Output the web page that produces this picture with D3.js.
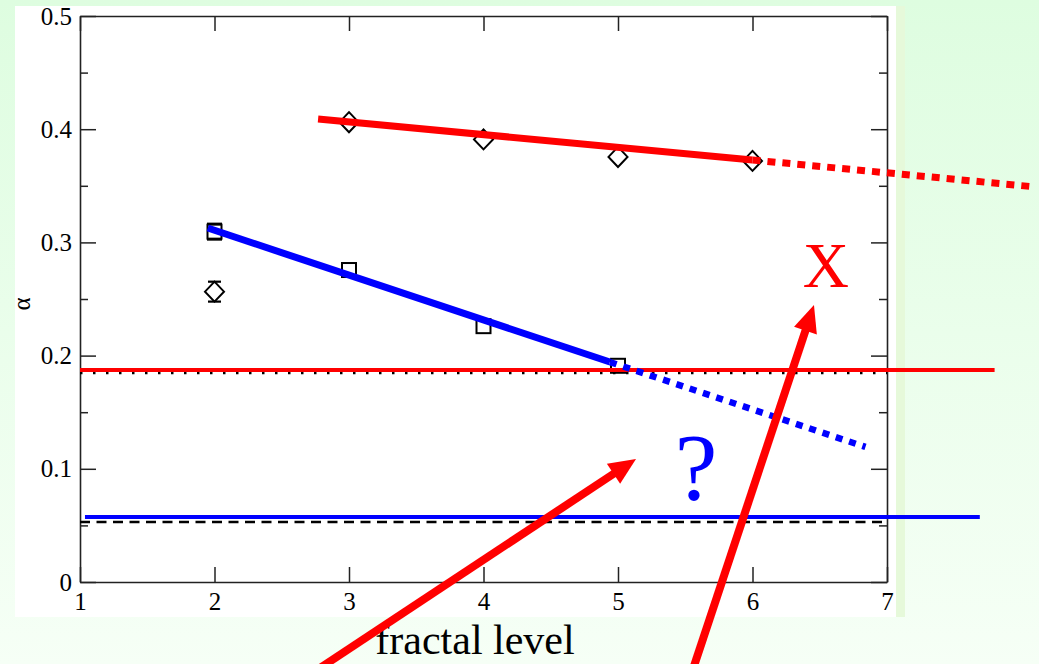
<!DOCTYPE html>
<html>
<head>
<meta charset="utf-8">
<script src="https://cdn.jsdelivr.net/npm/d3@7"></script>
<style>
  html, body { margin: 0; padding: 0; background: #f0fff0; }
  svg { display: block; }
  text { font-family: "Liberation Serif", "Times New Roman", serif; }
</style>
</head>
<body>
<svg id="chart" width="1039" height="664"></svg>
<script>
// Measured exponent alpha per fractal level
const squareLevels = [2, 3, 4, 5];
const squareAlpha  = [0.3095, 0.2756, 0.226, 0.191];
const squareErr    = [0.007, 0, 0, 0];

const diamondLevels = [2, 3, 4, 5, 6];
const diamondAlpha  = [0.2565, 0.4062, 0.391, 0.3755, 0.372];
const diamondErr    = [0.0088, 0, 0, 0, 0];

// Linear fits and their extrapolations (level, alpha)
const redFit     = [[2.77, 0.409], [6.0, 0.3728]];
const redExtrap  = [[6.0, 0.3728], [8.1, 0.349]];
const blueFit    = [[1.95, 0.3127], [4.94, 0.1943]];
const blueExtrap = [[4.94, 0.1943], [6.84, 0.1193]];

// Horizontal reference levels
const redLevel    = { alpha: 0.1873, from: 1.0, to: 7.80 };
const blueLevel   = { alpha: 0.0574, from: 1.037, to: 7.69 };
const dottedLevel = { alpha: 0.1847, from: 1.0, to: 7.0 };
const dashedLevel = { alpha: 0.053, from: 1.0, to: 7.0 };

// Annotation arrows (start -> tip, in level/alpha units)
const arrows = [
  { from: [2.638, -0.0875], to: [5.134, 0.1087] },
  { from: [5.528, -0.0875], to: [6.457, 0.2447] }
];

// Axis ticks
const xTicks = [1, 2, 3, 4, 5, 6, 7];
const yTicks = [0, 0.1, 0.2, 0.3, 0.4, 0.5];
const yMinorTicks = [0.05, 0.15, 0.25, 0.35, 0.45];

const svg = d3.select("#chart");
const W = 1039, H = 664;

// Background: soft green gradient, white plot panel
const defs = svg.append("defs");
const grad = defs.append("linearGradient").attr("id", "bg").attr("x1", 0).attr("y1", 0).attr("x2", 0).attr("y2", 1);
grad.append("stop").attr("offset", "0%").attr("stop-color", "#defde0");
grad.append("stop").attr("offset", "100%").attr("stop-color", "#f6fff6");
svg.append("rect").attr("width", W).attr("height", H).attr("fill", "url(#bg)");
svg.append("rect").attr("x", 896).attr("y", 6).attr("width", 9).attr("height", 611).attr("fill", "#e6f9da");
svg.append("rect").attr("x", 15).attr("y", 6).attr("width", 881).attr("height", 611).attr("fill", "#ffffff");

const x = d3.scaleLinear().domain([1, 7]).range([80, 887]);
const y = d3.scaleLinear().domain([0, 0.5]).range([582, 16]);

const axisColor = "#222";
function styleAxis(g, hideLabels) {
  g.select(".domain").attr("stroke", axisColor).attr("stroke-width", 1.6);
  g.selectAll(".tick line").attr("stroke", axisColor).attr("stroke-width", 1.5);
  g.selectAll(".tick text").attr("fill", "#000").attr("font-size", 25)
    .style("font-family", "'Liberation Serif', serif");
  if (hideLabels) g.selectAll(".tick text").remove();
}

// Bottom axis with labels
svg.append("g").attr("transform", `translate(0,${y(0)})`)
  .call(d3.axisBottom(x).tickValues(xTicks).tickSizeInner(-15).tickSizeOuter(0).tickPadding(10).tickFormat(d3.format("d")))
  .call(g => styleAxis(g, false));
// Top axis
svg.append("g").attr("transform", `translate(0,${y(0.5)})`)
  .call(d3.axisTop(x).tickValues(xTicks).tickSizeInner(-15).tickSizeOuter(0))
  .call(g => styleAxis(g, true));
// Left axis with labels
svg.append("g").attr("transform", `translate(${x(1)},0)`)
  .call(d3.axisLeft(y).tickValues(yTicks).tickSizeInner(-16).tickSizeOuter(0).tickPadding(8)
    .tickFormat(d => d === 0 ? "0" : d3.format(".1f")(d)))
  .call(g => styleAxis(g, false));
svg.append("g").attr("transform", `translate(${x(1)},0)`)
  .call(d3.axisLeft(y).tickValues(yMinorTicks).tickSizeInner(-8).tickSizeOuter(0))
  .call(g => { styleAxis(g, true); g.select(".domain").remove(); });
// Right axis
svg.append("g").attr("transform", `translate(${x(7)},0)`)
  .call(d3.axisRight(y).tickValues(yTicks).tickSizeInner(-16).tickSizeOuter(0))
  .call(g => styleAxis(g, true));
svg.append("g").attr("transform", `translate(${x(7)},0)`)
  .call(d3.axisRight(y).tickValues(yMinorTicks).tickSizeInner(-8).tickSizeOuter(0))
  .call(g => { styleAxis(g, true); g.select(".domain").remove(); });

// Axis titles
svg.append("text").attr("transform", `translate(30,${y(0.25) + 5}) rotate(-90)`)
  .attr("text-anchor", "middle").attr("font-size", 25).text("α");
svg.append("text").attr("x", 475).attr("y", 654).attr("text-anchor", "middle")
  .attr("font-size", 42).text("fractal level");

const line = d3.line().x(d => x(d[0])).y(d => y(d[1]));

// Black reference lines
svg.append("path").attr("d", line([[dottedLevel.from, dottedLevel.alpha], [dottedLevel.to, dottedLevel.alpha]]))
  .attr("stroke", "#000").attr("stroke-width", 2.5).attr("stroke-dasharray", "2.5,10.5").attr("fill", "none");
svg.append("path").attr("d", line([[dashedLevel.from, dashedLevel.alpha], [dashedLevel.to, dashedLevel.alpha]]))
  .attr("stroke", "#000").attr("stroke-width", 2.5).attr("stroke-dasharray", "10,6.5").attr("fill", "none");

// Markers with error caps
const squares = squareLevels.map((l, i) => ({ l, a: squareAlpha[i], e: squareErr[i] }));
const diamonds = diamondLevels.map((l, i) => ({ l, a: diamondAlpha[i], e: diamondErr[i] }));

function caps(data, halfW) {
  const g = svg.append("g");
  data.filter(d => d.e > 0).forEach(d => {
    [d.a - d.e, d.a + d.e].forEach(v => {
      g.append("line").attr("x1", x(d.l) - halfW).attr("x2", x(d.l) + halfW)
        .attr("y1", y(v)).attr("y2", y(v)).attr("stroke", "#000").attr("stroke-width", 2.2);
    });
  });
}
caps(squares, 7.5);
caps(diamonds, 6.5);

svg.append("g").selectAll("rect").data(squares).join("rect")
  .attr("x", d => x(d.l) - 7).attr("y", d => y(d.a) - 7)
  .attr("width", 14).attr("height", 14)
  .attr("fill", "none").attr("stroke", "#000").attr("stroke-width", 2);

svg.append("g").selectAll("path").data(diamonds).join("path")
  .attr("d", d => {
    const cx = x(d.l), cy = y(d.a);
    return `M${cx},${cy - 10}L${cx + 9.5},${cy}L${cx},${cy + 10}L${cx - 9.5},${cy}Z`;
  })
  .attr("fill", "none").attr("stroke", "#000").attr("stroke-width", 2);

// Horizontal coloured levels
svg.append("path").attr("d", line([[redLevel.from, redLevel.alpha], [redLevel.to, redLevel.alpha]]))
  .attr("stroke", "#ff0000").attr("stroke-width", 4).attr("fill", "none");
svg.append("path").attr("d", line([[blueLevel.from, blueLevel.alpha], [blueLevel.to, blueLevel.alpha]]))
  .attr("stroke", "#0000ff").attr("stroke-width", 4).attr("fill", "none");

// Fits
svg.append("path").attr("d", line(redFit)).attr("stroke", "#ff0000").attr("stroke-width", 7).attr("fill", "none");
svg.append("path").attr("d", line(redExtrap)).attr("stroke", "#ff0000").attr("stroke-width", 7)
  .attr("stroke-dasharray", "8,7").attr("fill", "none");
svg.append("path").attr("d", line(blueFit)).attr("stroke", "#0000ff").attr("stroke-width", 7).attr("fill", "none");
svg.append("path").attr("d", line(blueExtrap)).attr("stroke", "#0000ff").attr("stroke-width", 6.5)
  .attr("stroke-dasharray", "7,7").attr("fill", "none");

// Annotations
svg.append("text").attr("x", x(5.58)).attr("y", y(0.0724)).attr("text-anchor", "middle")
  .attr("font-size", 96).attr("fill", "#0000ff").text("?");
svg.append("text").attr("x", x(6.546)).attr("y", y(0.2606)).attr("text-anchor", "middle")
  .attr("font-size", 64).attr("fill", "#ff0000").text("X");

arrows.forEach(a => {
  const x0 = x(a.from[0]), y0 = y(a.from[1]), x1 = x(a.to[0]), y1 = y(a.to[1]);
  const dx = x1 - x0, dy = y1 - y0, len = Math.hypot(dx, dy);
  const ux = dx / len, uy = dy / len, px = -uy, py = ux;
  const headLen = 27, headHalf = 12;
  const bx = x1 - ux * headLen, by = y1 - uy * headLen;
  svg.append("line").attr("x1", x0).attr("y1", y0).attr("x2", bx + ux * 2).attr("y2", by + uy * 2)
    .attr("stroke", "#ff0000").attr("stroke-width", 8);
  svg.append("path")
    .attr("d", `M${x1},${y1}L${bx + px * headHalf},${by + py * headHalf}L${bx - px * headHalf},${by - py * headHalf}Z`)
    .attr("fill", "#ff0000");
});
</script>
</body>
</html>
